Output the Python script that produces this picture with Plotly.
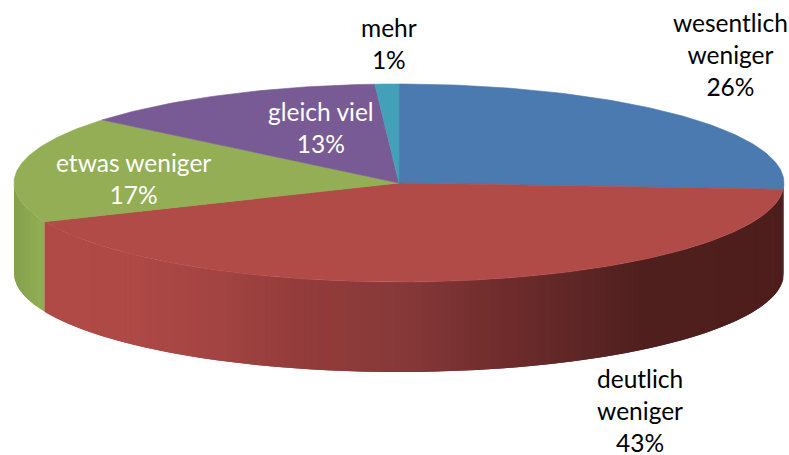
import numpy as np
import plotly.graph_objects as go

# ---- data ----
categories = ["wesentlich<br>weniger", "deutlich<br>weniger", "etwas weniger", "gleich viel", "mehr"]
values = [26.0, 42.6, 17.4, 13.0, 1.0]

# ---- style / geometry ----
top_colors = ["#4A7AB0", "#B04B48", "#93AE54", "#785B94", "#43A0B8"]
text_colors = ["black", "black", "white", "white", "black"]
label_xy = [(730, 54), (640, 410), (133, 178.5), (321, 127), (389, 43)]
CX, CY, RX, RY, DEPTH = 399, 183, 385, 99, 90
W, H = 789, 455
FONT = "Lato"
FSIZE = 24.5

red_stops = [(45, "#B04A47"), (130, "#AE4946"), (220, "#A24442"), (300, "#933C3B"),
             (400, "#873939"), (500, "#702C2C"), (560, "#622828"), (640, "#4F1F1E"), (790, "#4E1E1D")]
green_stops = [(14, "#84A04C"), (30, "#8DA950"), (46, "#93AE54")]
blue_stops = [(770, "#2F4F73"), (790, "#2F4F73")]


def rgb(h):
    return np.array([int(h[i:i + 2], 16) for i in (1, 3, 5)], float)


def grad(x, stops):
    xs = [s[0] for s in stops]
    cs = np.array([rgb(s[1]) for s in stops])
    c = [np.interp(x, xs, cs[:, i]) for i in range(3)]
    return "rgb(%d,%d,%d)" % tuple(round(v) for v in c)


def px(a):
    return CX + RX * np.sin(a)


def py(a):
    return CY - RY * np.cos(a)


fig = go.Figure()


def poly(xs, ys, color, lw=0.6):
    fig.add_trace(go.Scatter(x=xs, y=ys, mode="lines", fill="toself", fillcolor=color,
                             line=dict(color=color, width=lw), hoverinfo="skip", showlegend=False))


cum = np.cumsum([0] + values) / sum(values) * 2 * np.pi

# side wall: only the front half of the disc (3 o'clock to 9 o'clock) is visible
wall_stops = [blue_stops, red_stops, green_stops, None, None]
order = [2, 0, 1]  # red last, so its flat left edge sits over the green wall
for i in order:
    stops = wall_stops[i]
    a0 = max(cum[i], np.pi / 2)
    a1 = min(cum[i + 1], 3 * np.pi / 2)
    if a1 <= a0:
        continue
    # strips overlap the next one, so no background shows through the seams
    n = max(2, int(abs(px(a1) - px(a0)) / 5) + 2)
    edges = np.linspace(a0, a1, n)
    step = edges[1] - edges[0]
    for s, e in zip(edges[:-1], edges[1:]):
        t = np.linspace(s, min(e + step, a1), 7)
        xs = np.r_[px(t), px(t[::-1])]
        ys = np.r_[py(t), py(t[::-1]) + DEPTH]
        poly(xs, ys, grad(px((s + e) / 2), stops), lw=0)

# top face
for i in range(len(values)):
    t = np.linspace(cum[i], cum[i + 1], max(4, int(values[i] * 4)))
    poly(np.r_[CX, px(t), CX], np.r_[CY, py(t), CY], top_colors[i])

annotations = [
    dict(x=x, y=y, xref="x", yref="y", text=f"{c}<br>{round(v)}%", showarrow=False,
         xanchor="center", yanchor="middle", align="center",
         font=dict(family=FONT, size=FSIZE, color=tc))
    for c, v, (x, y), tc in zip(categories, values, label_xy, text_colors)
]

fig.update_layout(
    width=W, height=H, margin=dict(l=0, r=0, t=0, b=0),
    paper_bgcolor="white", plot_bgcolor="white", showlegend=False,
    xaxis=dict(range=[0, W], visible=False, fixedrange=True),
    yaxis=dict(range=[H, 0], visible=False, fixedrange=True),
    annotations=annotations,
)
fig.write_html("out.html", config={"displayModeBar": False},
               post_script="document.body.style.margin='0';document.body.style.overflow='hidden';")
